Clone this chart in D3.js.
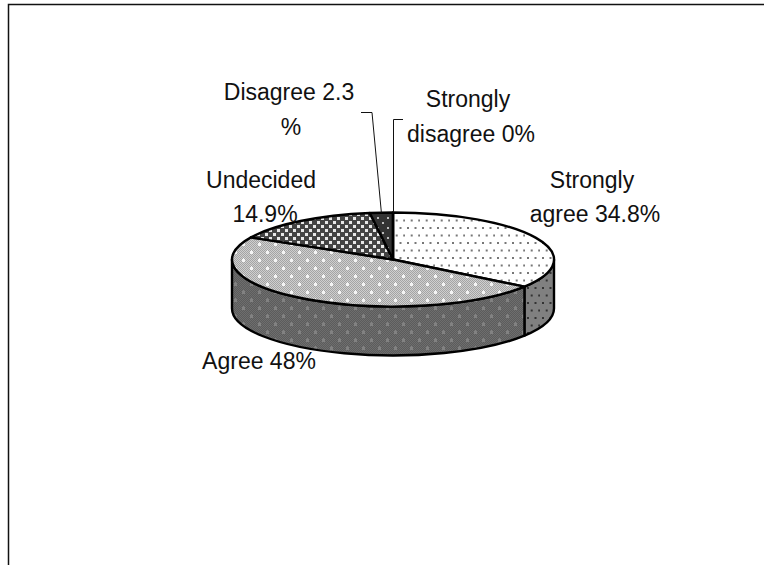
<!DOCTYPE html>
<html><head><meta charset="utf-8">
<script src="https://cdnjs.cloudflare.com/ajax/libs/d3/7.8.5/d3.min.js"></script>
<style>html,body{margin:0;background:#fff}svg{display:block}text{font-family:"Liberation Sans",Arial,sans-serif;font-size:23px;fill:#111}</style>
</head><body><svg id="c" width="764" height="565"></svg>
<script>
const categories=["Strongly agree","Agree","Undecided","Disagree","Strongly disagree"];
const values=[34.8,48,14.9,2.3,0];
const labelLines=[["Strongly","agree 34.8%"],["Agree 48%"],["Undecided","14.9%"],["Disagree 2.3","%"],["Strongly","disagree 0%"]];
const labelX=[[592,595],[259],[261,265],[289,291],[468,471]];
const labelY=[[188,222],[369],[188,222],[100,135],[107,142]];
const cx=393,cy=259.5,rx=161,ry=47,depth=49;
const svg=d3.select("#c"),defs=svg.append("defs");

function pat(id,size,bg,draw){
  const p=defs.append("pattern").attr("id",id).attr("patternUnits","userSpaceOnUse").attr("width",size).attr("height",size);
  p.append("rect").attr("width",size).attr("height",size).attr("fill",bg);
  draw(p);
}
const sq=(p,x,y,s,f)=>p.append("rect").attr("x",x).attr("y",y).attr("width",s).attr("height",s).attr("fill",f);
function dither(id,a,b,dot){
  pat(id,16,a,p=>{
    for(let i=0;i<16;i+=2)for(let j=0;j<16;j+=2){sq(p,i,j,1,b);sq(p,i+1,j+1,1,b);}
    [[3,3],[11,11]].forEach(d=>{sq(p,d[0]-1,d[1],3,dot);sq(p,d[0],d[1]-1,1,dot);sq(p,d[0],d[1]+1,1,dot);});
  });
}
pat("pAgreeS",15,"#fff",p=>{sq(p,2,2,2,"#777");sq(p,9.5,2,2,"#777");sq(p,5.7,9.5,2,"#777");sq(p,13.2,9.5,2,"#777");});
pat("pSideR",15,"#808080",p=>{sq(p,2,2,2,"#333");sq(p,9.5,2,2,"#333");sq(p,5.7,9.5,2,"#333");sq(p,13.2,9.5,2,"#333");});
dither("pAgree","#cfcfcf","#a4a4a4","#f4f4f4");
dither("pSideL","#5c5c5c","#6e6e6e","#828282");
pat("pUnd",8,"#444",p=>{sq(p,1,1,3,"#e8e8e8");sq(p,5,5,3,"#e8e8e8");});
pat("pDis",10,"#333",p=>{sq(p,2,2,2,"#bbb");sq(p,7,7,2,"#bbb");});

const topFill=["url(#pAgreeS)","url(#pAgree)","url(#pUnd)","url(#pDis)","#333"];
const sideFill=["url(#pSideR)","url(#pSideL)"];

const arcs=d3.pie().sort(null).value(d=>d)(values);
const px=a=>cx+rx*Math.sin(a), py=a=>cy-ry*Math.cos(a);
const P=Math.PI;

// outer frame
svg.append("path").attr("d","M8.5,565V4.5H764").attr("fill","none").attr("stroke","#111").attr("stroke-width",1.5);

// side walls: only the near half of the rim is visible
const side=svg.append("g");
arcs.forEach((d,i)=>{
  const a0=Math.max(d.startAngle,P/2),a1=Math.min(d.endAngle,3*P/2);
  if(a1<=a0)return;
  const k=i<sideFill.length?i:1;
  side.append("path").attr("d",
    `M${px(a0)},${py(a0)}A${rx},${ry} 0 ${a1-a0>P?1:0} 1 ${px(a1)},${py(a1)}`+
    `L${px(a1)},${py(a1)+depth}A${rx},${ry} 0 ${a1-a0>P?1:0} 0 ${px(a0)},${py(a0)+depth}Z`)
    .attr("fill",sideFill[k]).attr("stroke","#000").attr("stroke-width",2.4).attr("stroke-linejoin","round");
});
// top faces
svg.append("g").selectAll("path").data(arcs).join("path")
  .attr("d",d=>{
    if(d.endAngle-d.startAngle<1e-6)return `M${cx},${cy}L${px(d.startAngle)},${py(d.startAngle)}`;
    return `M${cx},${cy}L${px(d.startAngle)},${py(d.startAngle)}A${rx},${ry} 0 ${d.endAngle-d.startAngle>P?1:0} 1 ${px(d.endAngle)},${py(d.endAngle)}Z`;
  })
  .attr("fill",(d,i)=>topFill[i]).attr("stroke","#000").attr("stroke-width",2.4).attr("stroke-linejoin","round");

// leader lines
const aDis=(arcs[3].startAngle+arcs[3].endAngle)/2;
svg.append("path").attr("d",`M361,112.5H372L${px(aDis)},${py(aDis)}`).attr("fill","none").attr("stroke","#111").attr("stroke-width",1);
svg.append("path").attr("d",`M403,119.5H393.5V${py(0)}`).attr("fill","none").attr("stroke","#111").attr("stroke-width",1);

// labels
labelLines.forEach((ls,i)=>{
  ls.forEach((s,j)=>svg.append("text").attr("text-anchor","middle").attr("x",labelX[i][j]).attr("y",labelY[i][j]).text(s));
});
</script></body></html>
